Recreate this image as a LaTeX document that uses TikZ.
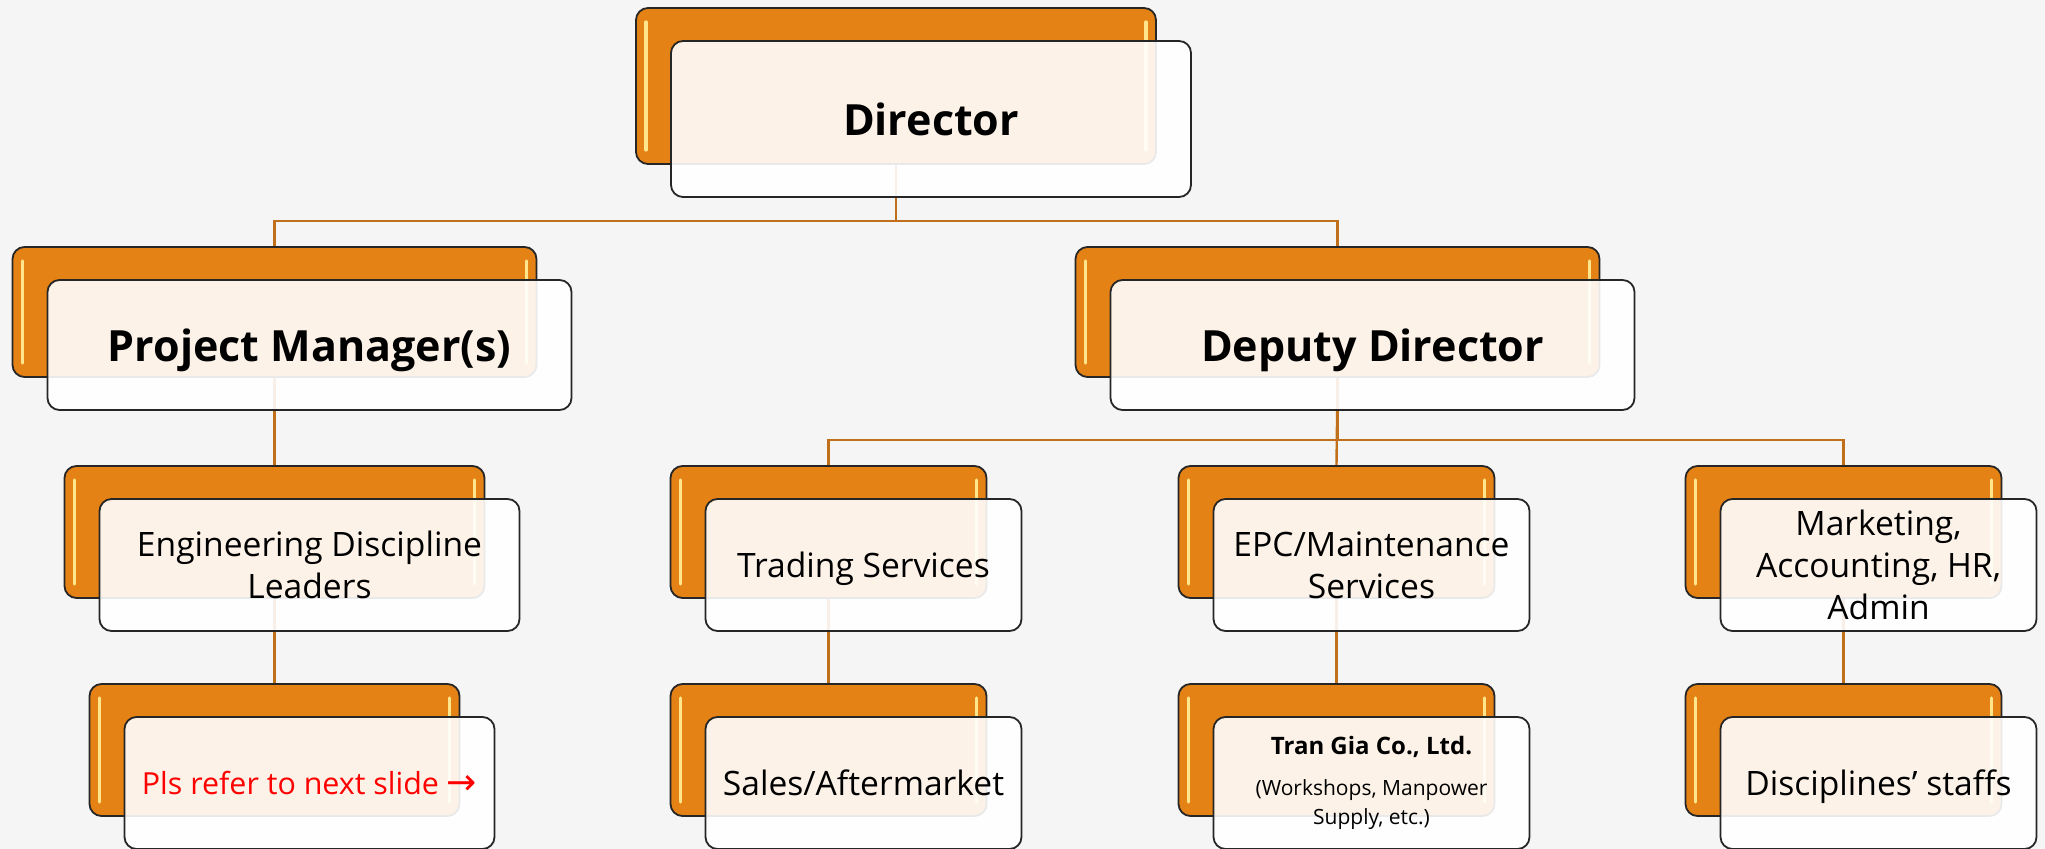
\documentclass[tikz,border=0pt]{standalone}
\usepackage{fontspec}
\setmainfont{Open Sans}
\newfontfamily\arrowfont{DejaVu Sans}
\definecolor{pagebg}{RGB}{245,245,245}
\definecolor{boxorange}{RGB}{229,130,22}
\definecolor{glintyellow}{RGB}{255,230,140}
\definecolor{linkbrown}{RGB}{192,112,26}
\newcommand\toptext{\bfseries\fontsize{21.5}{26}\selectfont}
\newcommand\unittext{\fontsize{16.8}{21}\selectfont}
\newcommand\notetext{\fontsize{15.2}{19}\selectfont}
\newcommand\firmtext{\bfseries\fontsize{12}{14}\selectfont}
\newcommand\smalltext{\fontsize{10.5}{14.5}\selectfont}
\pgfdeclarelayer{bg}
\pgfdeclarelayer{links}
\pgfsetlayers{bg,links,main}
\tikzset{
  backbox/.style={rectangle, rounded corners=6pt, draw=black!85, line width=0.9pt,
    fill=boxorange, inner sep=0pt,
    path picture={
      \draw[glint] ([shift={(5pt,-7pt)}]path picture bounding box.north west)
        -- ([shift={(5pt,7pt)}]path picture bounding box.south west);
      \draw[glint] ([shift={(-5pt,-7pt)}]path picture bounding box.north east)
        -- ([shift={(-5pt,7pt)}]path picture bounding box.south east);
    }},
  frontbox/.style={rectangle, rounded corners=6pt, draw=black!85, line width=0.9pt,
    fill=white, fill opacity=0.9, text opacity=1, inner sep=2pt, align=center},
  oneline/.style={text depth=0pt},
  glint/.style={glintyellow, line width=1.6pt, line cap=round},
  link/.style={linkbrown, line width=1.2pt},
  dirsize/.style={minimum width=260pt, minimum height=78pt},
  headsize/.style={minimum width=262pt, minimum height=65pt},
  engsize/.style={minimum width=210pt, minimum height=66pt},
  notesize/.style={minimum width=185pt, minimum height=66pt},
  unitsize/.style={minimum width=158pt, minimum height=66pt}
}
\begin{document}
\begin{tikzpicture}[x=0.5pt, y=-0.5pt]
\useasboundingbox (0,0) rectangle (2045,849);
\begin{pgfonlayer}{bg}
\fill[pagebg] (0,0) rectangle (2045,849);
\end{pgfonlayer}

% top
\node[backbox, dirsize] (dirB) at (896,86) {};
\node[frontbox, dirsize, font=\toptext, oneline] (dir) at ([shift={(35,33)}]dirB.center) {Director};

% second row
\node[backbox, headsize] (pmB) at (274.5,312) {};
\node[frontbox, headsize, font=\toptext, oneline] (pm) at ([shift={(35,33)}]pmB.center) {Project Manager(s)};
\node[backbox, headsize] (ddB) at (1337.5,312) {};
\node[frontbox, headsize, font=\toptext, oneline] (dd) at ([shift={(35,33)}]ddB.center) {Deputy Director};

% third row
\node[backbox, engsize] (engB) at (274.5,532) {};
\node[frontbox, engsize, font=\unittext] (eng) at ([shift={(35,33)}]engB.center) {Engineering Discipline\\Leaders};
\node[backbox, unitsize] (tradeB) at (828.5,532) {};
\node[frontbox, unitsize, font=\unittext, oneline] (trade) at ([shift={(35,33)}]tradeB.center) {Trading Services};
\node[backbox, unitsize] (epcB) at (1336.5,532) {};
\node[frontbox, unitsize, font=\unittext] (epc) at ([shift={(35,33)}]epcB.center) {EPC/Maintenance\\Services};
\node[backbox, unitsize] (mktB) at (1843.5,532) {};
\node[frontbox, unitsize, font=\unittext] (mkt) at ([shift={(35,33)}]mktB.center) {Marketing,\\Accounting, HR,\\Admin};

% bottom row
\node[backbox, notesize] (plsB) at (274.5,750) {};
\node[frontbox, notesize, font=\notetext, oneline, text=red] (pls) at ([shift={(35,33)}]plsB.center) {Pls refer to next slide {\arrowfont\fontsize{18}{20}\selectfont →}};
\node[backbox, unitsize] (salesB) at (828.5,750) {};
\node[frontbox, unitsize, font=\unittext, oneline] (sales) at ([shift={(35,33)}]salesB.center) {Sales/Aftermarket};
\node[backbox, unitsize] (tranB) at (1336.5,750) {};
\node[frontbox, unitsize, font=\smalltext] (tran) at ([shift={(35,33)}]tranB.center) {{\firmtext Tran Gia Co., Ltd.}\\[6pt](Workshops, Manpower\\Supply, etc.)};
\node[backbox, unitsize] (staffB) at (1843.5,750) {};
\node[frontbox, unitsize, font=\unittext, oneline] (staff) at ([shift={(35,33)}]staffB.center) {Disciplines’ staffs};

% connectors
\coordinate (busA) at (0,221);
\coordinate (busB) at (0,440);
\begin{pgfonlayer}{links}
\draw[link] (dirB.south) -- (dirB.south |- busA) -| (pmB.north);
\draw[link] (dirB.south |- busA) -| (ddB.north);
\draw[link] (pmB.south) -- (engB.north);
\draw[link] (engB.south) -- (plsB.north);
\draw[link] (ddB.south) -- (ddB.south |- busB) -| (tradeB.north);
\draw[link] (ddB.south |- busB) -| (mktB.north);
\draw[link] (ddB.south) -- (epcB.north);
\draw[link] (tradeB.south) -- (salesB.north);
\draw[link] (epcB.south) -- (tranB.north);
\draw[link] (mktB.south) -- (staffB.north);
\end{pgfonlayer}
\end{tikzpicture}
\end{document}
